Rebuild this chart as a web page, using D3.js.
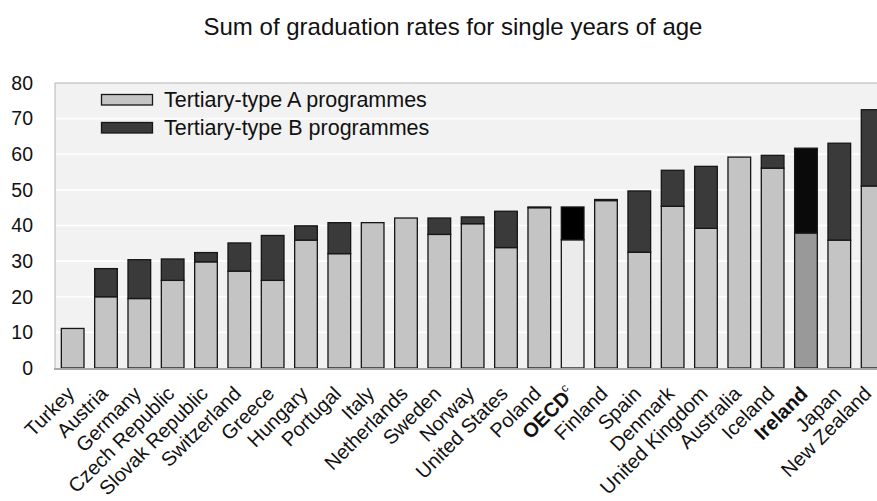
<!DOCTYPE html>
<html>
<head>
<meta charset="utf-8">
<script src="https://cdn.jsdelivr.net/npm/d3@7"></script>
<style>
  body { margin: 0; background: #fff; }
  svg { font-family: Arial, "Liberation Sans", sans-serif; }
</style>
</head>
<body>
<svg id="chart" width="877" height="501"></svg>
<script>
// Countries in the order they are drawn
var countries = ['Turkey', 'Austria', 'Germany', 'Czech Republic', 'Slovak Republic', 'Switzerland',
  'Greece', 'Hungary', 'Portugal', 'Italy', 'Netherlands', 'Sweden', 'Norway', 'United States',
  'Poland', 'OECD', 'Finland', 'Spain', 'Denmark', 'United Kingdom', 'Australia', 'Iceland',
  'Ireland', 'Japan', 'New Zealand'];

// Tertiary-type A programmes
var typeA = [11.1, 20.0, 19.5, 24.6, 29.8, 27.2, 24.6, 35.9, 32.1, 40.8, 42.1, 37.5, 40.5, 33.8,
  45.0, 36.0, 47.0, 32.5, 45.4, 39.2, 59.2, 56.1, 37.9, 35.9, 51.1];

// Tertiary-type B programmes
var typeB = [0, 7.9, 10.9, 6.0, 2.6, 7.9, 12.6, 4.0, 8.7, 0, 0, 4.6, 1.9, 10.2,
  0.2, 9.2, 0.3, 17.2, 10.1, 17.4, 0, 3.6, 23.8, 27.2, 21.4];

var yTicks = [0, 10, 20, 30, 40, 50, 60, 70, 80];
var seriesNames = ['Tertiary-type A programmes', 'Tertiary-type B programmes'];

var svg = d3.select('#chart');

var margin = { left: 55, top: 83, bottom: 368 };
var plotRight = 889.3;

var x = d3.scaleBand()
  .domain(countries)
  .range([margin.left + 1, plotRight])
  .paddingInner(0.32)
  .paddingOuter(0.16);

var y = d3.scaleLinear()
  .domain([0, 80])
  .range([margin.bottom, margin.top]);

// colours: highlighted bars for OECD average and Ireland
function colourA(c) {
  if (c === 'OECD') return '#ebebeb';
  if (c === 'Ireland') return '#999999';
  return '#c4c4c4';
}
function colourB(c) {
  if (c === 'OECD') return '#000000';
  if (c === 'Ireland') return '#0a0a0a';
  return '#3a3a3a';
}

// Title
svg.append('text')
  .attr('x', 453)
  .attr('y', 35)
  .attr('text-anchor', 'middle')
  .attr('font-size', 24)
  .attr('fill', '#111')
  .text('Sum of graduation rates for single years of age');

// Plot background
svg.append('rect')
  .attr('x', margin.left)
  .attr('y', y(80))
  .attr('width', plotRight - margin.left)
  .attr('height', y(0) - y(80))
  .attr('fill', '#f2f2f2');

// Gridlines
svg.append('g')
  .selectAll('line')
  .data(yTicks.filter(function(t) { return t > 0 && t < 80; }))
  .enter()
  .append('line')
  .attr('x1', margin.left)
  .attr('x2', plotRight)
  .attr('y1', function(d) { return y(d); })
  .attr('y2', function(d) { return y(d); })
  .attr('stroke', '#ffffff')
  .attr('stroke-width', 1.6);

// Frame: top and left
svg.append('line')
  .attr('x1', margin.left).attr('x2', plotRight)
  .attr('y1', y(80)).attr('y2', y(80))
  .attr('stroke', '#b4b4b4').attr('stroke-width', 1);
svg.append('line')
  .attr('x1', margin.left).attr('x2', margin.left)
  .attr('y1', y(80)).attr('y2', y(0))
  .attr('stroke', '#b4b4b4').attr('stroke-width', 1);

// Y axis labels
var yAxis = svg.append('g')
  .attr('transform', 'translate(' + margin.left + ',0)')
  .call(d3.axisLeft(y).tickValues(yTicks).tickSize(0).tickPadding(22));
yAxis.select('.domain').remove();
yAxis.selectAll('text')
  .attr('font-size', 19.5)
  .attr('font-family', 'Arial, "Liberation Sans", sans-serif')
  .attr('fill', '#111');

// Bars
var bars = svg.append('g');
bars.selectAll('.barA')
  .data(countries)
  .enter()
  .append('rect')
  .attr('class', 'barA')
  .attr('x', function(d) { return x(d); })
  .attr('y', function(d, i) { return y(typeA[i]); })
  .attr('width', x.bandwidth())
  .attr('height', function(d, i) { return y(0) - y(typeA[i]); })
  .attr('fill', function(d) { return colourA(d); })
  .attr('stroke', '#161616')
  .attr('stroke-width', 1.3);

bars.selectAll('.barB')
  .data(countries)
  .enter()
  .append('rect')
  .attr('class', 'barB')
  .attr('x', function(d) { return x(d); })
  .attr('y', function(d, i) { return y(typeA[i] + typeB[i]); })
  .attr('width', x.bandwidth())
  .attr('height', function(d, i) { return y(typeA[i]) - y(typeA[i] + typeB[i]); })
  .attr('fill', function(d) { return colourB(d); })
  .attr('stroke', '#161616')
  .attr('stroke-width', function(d, i) { return typeB[i] > 0 ? 1.3 : 0; });

// Bottom axis line
svg.append('line')
  .attr('x1', margin.left - 1).attr('x2', plotRight)
  .attr('y1', y(0) + 1).attr('y2', y(0) + 1)
  .attr('stroke', '#a8a8a8').attr('stroke-width', 2);

// X labels, rotated
var xl = svg.append('g')
  .selectAll('text')
  .data(countries)
  .enter()
  .append('text')
  .attr('text-anchor', 'end')
  .attr('font-size', 20)
  .attr('fill', '#111')
  .attr('font-weight', function(d) { return (d === 'OECD' || d === 'Ireland') ? 'bold' : 'normal'; })
  .attr('transform', function(d, i) {
    var dx = i === countries.length - 1 ? 0 : 3;
    return 'translate(' + (x(d) + x.bandwidth() / 2 + dx) + ',395) rotate(-45)';
  });
xl.append('tspan').text(function(d) { return d; });
xl.filter(function(d) { return d === 'OECD'; })
  .append('tspan')
  .attr('font-size', 12)
  .attr('font-weight', 'normal')
  .attr('dy', -9)
  .text('c');

// Legend
var legend = svg.append('g');
legend.selectAll('rect')
  .data(seriesNames)
  .enter()
  .append('rect')
  .attr('x', 101.5)
  .attr('y', function(d, i) { return 94.5 + i * 28; })
  .attr('width', 51)
  .attr('height', 10.5)
  .attr('fill', function(d, i) { return i === 0 ? '#c4c4c4' : '#3a3a3a'; })
  .attr('stroke', '#161616')
  .attr('stroke-width', 1.3);
legend.selectAll('text')
  .data(seriesNames)
  .enter()
  .append('text')
  .attr('x', 164)
  .attr('y', function(d, i) { return 107 + i * 28; })
  .attr('font-size', 21.5)
  .attr('fill', '#111')
  .text(function(d) { return d; });
</script>
</body>
</html>
